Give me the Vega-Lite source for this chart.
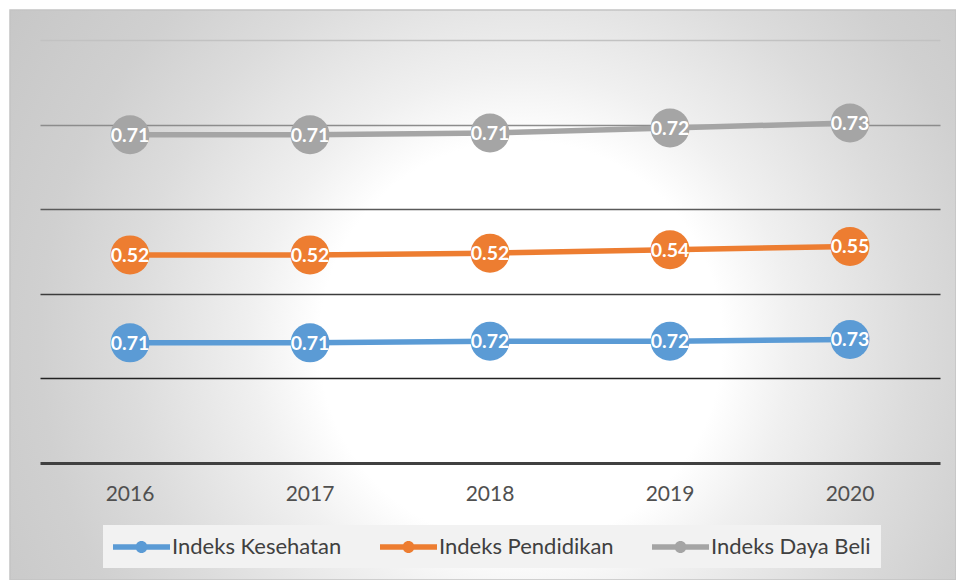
{
  "$schema": "https://vega.github.io/schema/vega-lite/v6.json",
  "width": 946,
  "height": 570,
  "autosize": "none",
  "padding": {"left": 10, "top": 10, "right": 0, "bottom": 0},
  "background": "#ffffff",
  "view": {
    "stroke": "#c4c4c4",
    "strokeWidth": 1.5,
    "fill": {
      "gradient": "radial",
      "x1": 0.54, "y1": 0.55, "r1": 0,
      "x2": 0.54, "y2": 0.55, "r2": 0.687,
      "stops": [
        {"offset": 0, "color": "#ffffff"},
        {"offset": 0.31, "color": "#ffffff"},
        {"offset": 0.415, "color": "#f0f0f0"},
        {"offset": 0.6, "color": "#dcdcdc"},
        {"offset": 0.74, "color": "#d0d0d0"},
        {"offset": 1, "color": "#c4c4c4"}
      ]
    }
  },
  "data": {
    "values": [
      {"year": "2016", "series": "Indeks Kesehatan", "order": 1, "value": 0.71},
      {"year": "2017", "series": "Indeks Kesehatan", "order": 1, "value": 0.71},
      {"year": "2018", "series": "Indeks Kesehatan", "order": 1, "value": 0.72},
      {"year": "2019", "series": "Indeks Kesehatan", "order": 1, "value": 0.72},
      {"year": "2020", "series": "Indeks Kesehatan", "order": 1, "value": 0.73},
      {"year": "2016", "series": "Indeks Pendidikan", "order": 2, "value": 0.52},
      {"year": "2017", "series": "Indeks Pendidikan", "order": 2, "value": 0.52},
      {"year": "2018", "series": "Indeks Pendidikan", "order": 2, "value": 0.52},
      {"year": "2019", "series": "Indeks Pendidikan", "order": 2, "value": 0.54},
      {"year": "2020", "series": "Indeks Pendidikan", "order": 2, "value": 0.55},
      {"year": "2016", "series": "Indeks Daya Beli", "order": 3, "value": 0.71},
      {"year": "2017", "series": "Indeks Daya Beli", "order": 3, "value": 0.71},
      {"year": "2018", "series": "Indeks Daya Beli", "order": 3, "value": 0.71},
      {"year": "2019", "series": "Indeks Daya Beli", "order": 3, "value": 0.72},
      {"year": "2020", "series": "Indeks Daya Beli", "order": 3, "value": 0.73}
    ]
  },
  "transform": [
    {"stack": "value", "groupby": ["year"], "sort": [{"field": "order", "order": "ascending"}], "as": ["y0", "y1"]}
  ],
  "encoding": {
    "x": {
      "field": "year",
      "type": "ordinal",
      "scale": {"type": "band", "range": [30, 930], "paddingInner": 0, "paddingOuter": 0},
      "axis": {
        "title": null,
        "orient": "bottom",
        "offset": -117,
        "domain": true,
        "domainColor": "#404040",
        "domainWidth": 3,
        "ticks": false,
        "tickSize": 0,
        "labelAngle": 0,
        "labelPadding": 20,
        "labelFont": "Lato",
        "labelFontSize": 21,
        "labelColor": "#505050",
        "grid": false
      }
    },
    "y": {
      "field": "y1",
      "type": "quantitative",
      "scale": {"domain": [-0.6915, 2.6773], "nice": false, "zero": false},
      "axis": {
        "title": null,
        "values": [0.5, 1, 1.5, 2, 2.5],
        "domain": false,
        "ticks": false,
        "labels": false,
        "grid": true,
        "gridWidth": 1.5,
        "gridColor": {
          "condition": [
            {"test": "datum.value >= 2.5", "value": "#c2c2c2"},
            {"test": "datum.value >= 2", "value": "#8c8c8c"},
            {"test": "datum.value >= 1.5", "value": "#5a5a5a"},
            {"test": "datum.value >= 1", "value": "#3c3c3c"}
          ],
          "value": "#222222"
        }
      }
    },
    "color": {
      "field": "series",
      "type": "nominal",
      "scale": {
        "domain": ["Indeks Kesehatan", "Indeks Pendidikan", "Indeks Daya Beli"],
        "range": ["#5B9BD5", "#ED7D31", "#A5A5A5"]
      },
      "legend": {
        "title": null,
        "orient": "none",
        "direction": "horizontal",
        "legendX": 93,
        "legendY": 515,
        "fillColor": "#f2f2f2",
        "padding": 10,
        "columnPadding": 38,
        "symbolType": "M-1,-0.23H3.75V0.23H-1Z M0.875,0A0.5,0.5 0 1,1 1.875,0A0.5,0.5 0 1,1 0.875,0Z",
        "symbolSize": 576,
        "symbolStrokeWidth": 0,
        "symbolOpacity": 1,
        "labelOffset": 35,
        "labelFont": "Lato",
        "labelFontSize": 22,
        "labelColor": "#404040",
        "labelLimit": 400,
        "encode": {
          "symbols": {
            "update": {
              "fill": {"scale": "color", "field": "value"},
              "stroke": {"value": "transparent"},
              "strokeWidth": {"value": 0},
              "opacity": {"value": 1}
            }
          }
        }
      }
    }
  },
  "layer": [
    {
      "mark": {"type": "line", "strokeWidth": 5.5}
    },
    {
      "mark": {"type": "point", "shape": "circle", "filled": true, "size": 1520, "opacity": 1, "strokeWidth": 0}
    },
    {
      "mark": {"type": "text", "font": "Lato", "fontSize": 19.5, "fontWeight": "bold", "baseline": "middle", "align": "center", "dy": 1},
      "encoding": {
        "text": {"field": "value", "type": "quantitative", "format": ".2f"},
        "color": {"value": "#ffffff"}
      }
    }
  ]
}
